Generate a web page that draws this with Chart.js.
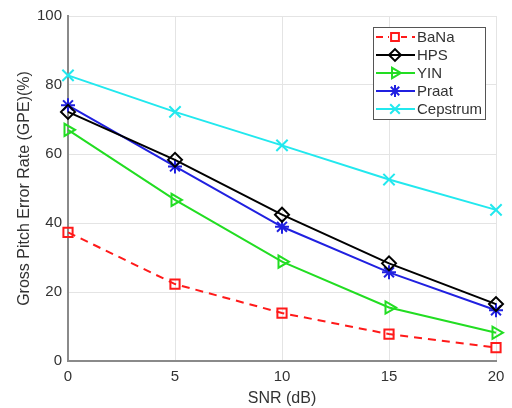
<!DOCTYPE html>
<html>
<head>
<meta charset="utf-8">
<script src="https://cdn.jsdelivr.net/npm/chart.js@4.4.0/dist/chart.umd.min.js"></script>
<style>
  html, body { margin: 0; padding: 0; background: #fff; }
  #wrap { width: 512px; height: 408px; position: relative; }
</style>
</head>
<body>
<div id="wrap"><canvas id="c" width="512" height="408"></canvas></div>
<script>
const snr = [0, 5, 10, 15, 20];
const bana = [37.3, 22.3, 13.9, 7.8, 3.9];
const hps = [72.2, 58.3, 42.4, 28.3, 16.5];
const yin = [67.0, 46.7, 28.8, 15.5, 8.2];
const praat = [74.1, 56.4, 38.9, 25.7, 14.7];
const cepstrum = [82.8, 72.2, 62.5, 52.6, 43.8];
const seriesNames = ['BaNa', 'HPS', 'YIN', 'Praat', 'Cepstrum'];
const xTicks = [0, 5, 10, 15, 20];
const yTicks = [0, 20, 40, 60, 80, 100];

const FONT = '"Liberation Sans", Arial, sans-serif';
const TXT = '#333333';

function pts(arr) { return snr.map((x, i) => ({ x: x, y: arr[i] })); }

function ds(label, data, color, style, radius, rotation, dash) {
  return {
    label: label,
    data: pts(data),
    borderColor: color,
    backgroundColor: 'rgba(0,0,0,0)',
    borderWidth: 2,
    borderDash: dash || [],
    pointStyle: style,
    pointRadius: radius,
    pointRotation: rotation || 0,
    pointBorderColor: color,
    pointBackgroundColor: 'rgba(0,0,0,0)',
    pointBorderWidth: 2,
    tension: 0,
    clip: false
  };
}

const datasets = [
  ds(seriesNames[0], bana, '#ff1a1a', 'rect', 6.5, 0, [8, 6]),
  ds(seriesNames[1], hps, '#000000', 'rectRot', 7, 0),
  ds(seriesNames[2], yin, '#22dd22', 'triangle', 7, 90),
  ds(seriesNames[3], praat, '#2020e0', 'star', 7, 0),
  ds(seriesNames[4], cepstrum, '#22e8ee', 'crossRot', 8, 0)
];

const legendPlugin = {
  id: 'boxLegend',
  afterDraw(chart) {
    const ctx = chart.ctx;
    const x0 = 373, y0 = 27, w = 112, h = 92;
    ctx.save();
    ctx.fillStyle = '#ffffff';
    ctx.fillRect(x0, y0, w, h);
    ctx.strokeStyle = '#555555';
    ctx.lineWidth = 1;
    ctx.strokeRect(x0 + 0.5, y0 + 0.5, w, h);
    chart.data.datasets.forEach((d, i) => {
      const yy = 37 + i * 18;
      ctx.save();
      ctx.strokeStyle = d.borderColor;
      ctx.lineWidth = 2;
      ctx.setLineDash(d.borderDash && d.borderDash.length ? [7, 5] : []);
      ctx.beginPath();
      ctx.moveTo(376, yy);
      ctx.lineTo(415, yy);
      ctx.stroke();
      ctx.setLineDash([]);
      if (d.borderDash && d.borderDash.length) {
        ctx.fillStyle = '#ffffff';
        ctx.fillRect(389, yy - 6, 12, 12);
      }
      ctx.fillStyle = 'rgba(0,0,0,0)';
      ctx.strokeStyle = d.pointBorderColor;
      Chart.helpers.drawPoint(ctx, {
        pointStyle: d.pointStyle,
        radius: d.pointRadius * 0.85,
        rotation: d.pointRotation,
        borderWidth: 2
      }, 395, yy);
      ctx.restore();
      ctx.fillStyle = TXT;
      ctx.font = '15px ' + FONT;
      ctx.textBaseline = 'middle';
      ctx.textAlign = 'left';
      ctx.fillText(d.label, 417, yy + 1);
    });
    ctx.restore();
  }
};

new Chart(document.getElementById('c'), {
  type: 'line',
  data: { datasets: datasets },
  options: {
    responsive: false,
    animation: false,
    devicePixelRatio: 1,
    layout: { padding: { left: 0, right: 16, top: 16, bottom: 0 } },
    plugins: { legend: { display: false }, tooltip: { enabled: false } },
    scales: {
      x: {
        type: 'linear',
        min: 0, max: 20,
        afterBuildTicks(scale) { scale.ticks = xTicks.map(v => ({ value: v })); },
        afterFit(scale) { scale.height = 47; },
        grid: { color: '#e4e4e4', lineWidth: 1, drawTicks: false },
        border: { display: true, color: '#8a8a8a', width: 2 },
        ticks: { color: TXT, font: { size: 15, family: FONT }, padding: 7, maxRotation: 0 },
        title: { display: true, text: 'SNR (dB)', color: TXT, font: { size: 16, family: FONT }, padding: { top: 1, bottom: 0 } }
      },
      y: {
        type: 'linear',
        min: 0, max: 100,
        afterBuildTicks(scale) { scale.ticks = yTicks.map(v => ({ value: v })); },
        afterFit(scale) { scale.width = 68; },
        grid: { color: '#e4e4e4', lineWidth: 1, drawTicks: false },
        border: { display: true, color: '#8a8a8a', width: 2 },
        ticks: { color: TXT, font: { size: 15, family: FONT }, padding: 6 },
        title: { display: true, text: 'Gross Pitch Error Rate (GPE)(%)', color: TXT, font: { size: 16, family: FONT }, padding: { top: 15, bottom: 4 } }
      }
    }
  },
  plugins: [legendPlugin]
});
</script>
</body>
</html>
